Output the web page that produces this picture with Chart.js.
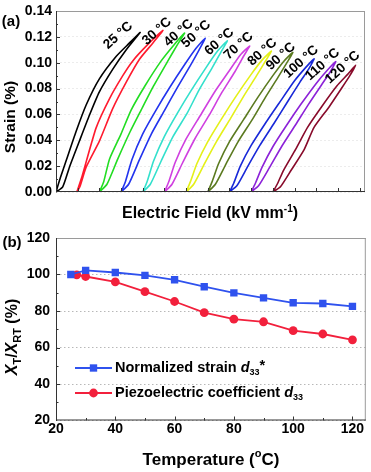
<!DOCTYPE html>
<html><head><meta charset="utf-8">
<script src="https://cdn.jsdelivr.net/npm/chart.js@4/dist/chart.umd.min.js"></script>
<style>
html,body{margin:0;padding:0;background:#fff;}
#wrap{position:relative;width:371px;height:472px;overflow:hidden;}
.box{position:absolute;left:0;width:371px;}
</style></head><body>
<div id="wrap">
<div class="box" style="top:0;height:225px"><canvas id="ca" width="371" height="225"></canvas></div>
<div class="box" style="top:225px;height:247px"><canvas id="cb" width="371" height="247"></canvas></div>
</div>
<script>
// ---------- Panel (a) data: strain loops (field in kV/mm on offset axis, strain in %) ----------
const temps = [25, 30, 40, 50, 60, 70, 80, 90, 100, 110, 120];
const field25 = [0, 0.2, 0.47, 0.93, 1.39, 2.0, 2.78, 3.39, 3.88, 3.24, 2.62, 2.0, 1.55, 1.08, 0.62, 0.31, 0];
const strain25 = [0, 0.011, 0.0243, 0.047, 0.0673, 0.0875, 0.105, 0.1153, 0.1234, 0.110, 0.095, 0.0774, 0.0597, 0.0394, 0.0192, 0.004, 0];
const field30 = [0.96, 1.2, 1.85, 2.47, 3.08, 3.54, 4.16, 4.93, 4.47, 3.85, 3.24, 2.62, 2.0, 1.39, 1.1, 0.96];
const strain30 = [0, 0.012, 0.0496, 0.0723, 0.090, 0.1014, 0.1128, 0.125, 0.1153, 0.1027, 0.085, 0.0647, 0.0394, 0.0192, 0.004, 0];
const field40 = [2, 2.2, 2.47, 3.0, 3.47, 4.1, 4.85, 5.4, 5.93, 5.6, 5.16, 4.5, 3.93, 3.4, 2.85, 2.35, 2];
const strain40 = [0, 0.008, 0.0256, 0.045, 0.0635, 0.082, 0.1014, 0.113, 0.123, 0.114, 0.1014, 0.082, 0.0635, 0.046, 0.0256, 0.006, 0];
const field50 = [3, 3.2, 3.5, 4.0, 4.6, 5.25, 5.95, 6.45, 6.88, 6.6, 6.2, 5.6, 5.0, 4.4, 3.85, 3.35, 3];
const strain50 = [0, 0.008, 0.025, 0.045, 0.063, 0.081, 0.099, 0.111, 0.119, 0.110, 0.098, 0.081, 0.063, 0.045, 0.025, 0.006, 0];
const field60 = [4, 4.2, 4.5, 5.0, 5.6, 6.25, 6.95, 7.45, 7.9, 7.6, 7.2, 6.6, 6.05, 5.4, 4.85, 4.35, 4];
const strain60 = [0, 0.008, 0.024, 0.043, 0.061, 0.079, 0.097, 0.109, 0.117, 0.108, 0.096, 0.079, 0.061, 0.043, 0.024, 0.006, 0];
const field70 = [5, 5.2, 5.5, 6.0, 6.65, 7.3, 8.0, 8.5, 8.93, 8.65, 8.25, 7.65, 7.05, 6.4, 5.85, 5.35, 5];
const strain70 = [0, 0.008, 0.023, 0.041, 0.059, 0.077, 0.094, 0.106, 0.113, 0.105, 0.093, 0.077, 0.059, 0.041, 0.023, 0.006, 0];
const field80 = [6, 6.2, 6.5, 7.0, 7.65, 8.3, 9.0, 9.5, 9.93, 9.65, 9.25, 8.65, 8.05, 7.4, 6.85, 6.35, 6];
const strain80 = [0, 0.008, 0.022, 0.039, 0.057, 0.074, 0.091, 0.102, 0.109, 0.101, 0.090, 0.074, 0.057, 0.039, 0.022, 0.006, 0];
const field90 = [7, 7.2, 7.5, 8.0, 8.65, 9.3, 10.0, 10.5, 10.92, 10.65, 10.25, 9.65, 9.05, 8.4, 7.85, 7.35, 7];
const strain90 = [0, 0.008, 0.022, 0.039, 0.056, 0.073, 0.090, 0.101, 0.108, 0.100, 0.089, 0.073, 0.056, 0.039, 0.022, 0.006, 0];
const field100 = [8, 8.2, 8.5, 9.0, 9.65, 10.3, 11.0, 11.5, 11.9, 11.65, 11.25, 10.65, 10.05, 9.4, 8.85, 8.35, 8];
const strain100 = [0, 0.007, 0.020, 0.036, 0.053, 0.069, 0.086, 0.096, 0.103, 0.095, 0.085, 0.069, 0.053, 0.036, 0.020, 0.005, 0];
const field110 = [9, 9.2, 9.5, 10.0, 10.65, 11.3, 12.0, 12.5, 12.9, 12.65, 12.25, 11.65, 11.05, 10.4, 9.85, 9.35, 9];
const strain110 = [0, 0.007, 0.019, 0.035, 0.052, 0.068, 0.084, 0.094, 0.101, 0.093, 0.083, 0.068, 0.052, 0.035, 0.019, 0.005, 0];
const field120 = [10, 10.2, 10.5, 11.05, 11.6, 12.25, 12.95, 13.45, 13.82, 13.55, 13.2, 12.6, 11.9, 11.45, 10.85, 10.35, 10];
const strain120 = [0, 0.006, 0.017, 0.033, 0.050, 0.066, 0.082, 0.091, 0.098, 0.090, 0.081, 0.066, 0.050, 0.033, 0.017, 0.004, 0];

// ---------- Panel (b) data ----------
const tempStrain = [25, 30, 40, 50, 60, 70, 80, 90, 100, 110, 120];
const normStrain = [100, 102.3, 101.1, 99.5, 97.1, 93.3, 89.9, 87.2, 84.5, 84.1, 82.5];
const tempD33 = [27, 30, 40, 50, 60, 70, 80, 90, 100, 110, 120];
const normD33 = [99.8, 98.9, 96.0, 90.6, 85.2, 79.1, 75.5, 74.1, 69.2, 67.4, 64.2];
const tempTicks = [20, 40, 60, 80, 100, 120];

// ---------- styles / layout ----------
const FONT = '"Liberation Sans", Arial, Helvetica, sans-serif';
const curveColors = ['#000000', '#ff1a2e', '#22dd22', '#2233ee', '#33e0cc', '#d040e0', '#e4f018', '#5b7a20', '#1828d8', '#8c22d8', '#880a2a'];
const labelDx = [-22, -6, -6, -9, -8, -11, -9, -12, -13, -13, -13];
const labelDy = [3, 1, 0, -4, 1, 0, 1, 4, 3, 3, 2];
const blue = '#2f52ee', red = '#f2203c';

const fields = [field25, field30, field40, field50, field60, field70, field80, field90, field100, field110, field120];
const strains = [strain25, strain30, strain40, strain50, strain60, strain70, strain80, strain90, strain100, strain110, strain120];

function fnt(p) { return (p.it ? 'italic ' : '') + 'bold ' + p.s + 'px ' + FONT; }
function rich(ctx, parts, x, y, align) {
  let w = 0;
  parts.forEach(p => { ctx.font = fnt(p); p.w = ctx.measureText(p.t).width; w += p.w; });
  let cx = align === 'center' ? x - w / 2 : (align === 'right' ? x - w : x);
  ctx.textAlign = 'left'; ctx.textBaseline = 'middle'; ctx.fillStyle = '#000';
  parts.forEach(p => { ctx.font = fnt(p); ctx.fillText(p.t, cx, y + (p.dy || 0)); cx += p.w; });
}
function ln(ctx, x1, y1, x2, y2) { ctx.beginPath(); ctx.moveTo(x1, y1); ctx.lineTo(x2, y2); ctx.stroke(); }
function frame(ctx, a) {
  ctx.lineWidth = 1;
  ctx.strokeStyle = '#9a9a9a';
  ln(ctx, a.left, a.top + 0.5, a.right, a.top + 0.5);
  ln(ctx, a.right - 0.5, a.top, a.right - 0.5, a.bottom);
  ctx.strokeStyle = '#333';
  ln(ctx, a.left + 0.5, a.top, a.left + 0.5, a.bottom + 0.5);
  ln(ctx, a.left, a.bottom - 0.5, a.right, a.bottom - 0.5);
}

Chart.defaults.font.family = FONT;
Chart.defaults.color = '#000';

// ---------- Chart (a) ----------
const plugA = {
  id: 'plugA',
  afterDraw(chart) {
    const { ctx, chartArea: a, scales: { x, y } } = chart;
    ctx.save();
    frame(ctx, a);
    ctx.strokeStyle = '#333'; ctx.lineWidth = 1;
    for (let v = 0; v <= 14; v++) {
      const px = Math.round(x.getPixelForValue(v)) + 0.5;
      ln(ctx, px, a.bottom, px, a.bottom - 4);
    }
    for (let k = 1; k < 14; k++) {
      const py = Math.round(y.getPixelForValue(k * 0.01)) + 0.5;
      ln(ctx, a.left, py, a.left + (k % 2 ? 2 : 4), py);
    }
    temps.forEach((t, i) => {
      const s = strains[i];
      let k = 0; s.forEach((v, j) => { if (v > s[k]) k = j; });
      const px = x.getPixelForValue(fields[i][k]) + labelDx[i];
      const py = y.getPixelForValue(s[k]) + labelDy[i];
      ctx.save();
      ctx.translate(px, py); ctx.rotate(-42 * Math.PI / 180);
      ctx.font = 'bold 13.5px ' + FONT; ctx.fillStyle = '#000';
      ctx.textAlign = 'center'; ctx.textBaseline = 'middle';
      ctx.fillText(t + ' \u00B0C', 0, 0);
      ctx.restore();
    });
    rich(ctx, [{ t: '(a)', s: 15 }], 11, 22, 'center');
    ctx.save(); ctx.translate(11, 117); ctx.rotate(-Math.PI / 2);
    rich(ctx, [{ t: 'Strain (%)', s: 15.5 }], 0, 0, 'center');
    ctx.restore();
    rich(ctx, [{ t: 'Electric Field (kV mm', s: 16 }, { t: '-1', s: 10, dy: -5 }, { t: ')', s: 16 }], 210, 214, 'center');
    ctx.restore();
  }
};

new Chart(document.getElementById('ca'), {
  type: 'scatter',
  data: {
    datasets: temps.map((t, i) => ({
      label: t + ' \u00B0C',
      data: fields[i].map((f, k) => ({ x: f, y: strains[i][k] })),
      showLine: true, borderColor: curveColors[i], backgroundColor: curveColors[i],
      borderWidth: 1.6, pointRadius: 0, pointHoverRadius: 0, tension: 0.2, fill: false
    }))
  },
  options: {
    responsive: false, animation: false, devicePixelRatio: 1,
    layout: { padding: { top: 7, right: 6, left: 0, bottom: 0 } },
    plugins: { legend: { display: false }, tooltip: { enabled: false } },
    scales: {
      x: {
        type: 'linear', min: 0, max: 14.25,
        ticks: { display: false, stepSize: 1 },
        grid: { display: false, drawTicks: false },
        border: { display: false },
        afterFit(s) { s.height = 33; }
      },
      y: {
        type: 'linear', min: 0, max: 0.14,
        ticks: { stepSize: 0.02, padding: 4, font: { size: 14, weight: 'bold', lineHeight: 1 }, callback: v => Number(v).toFixed(2) },
        grid: { color: '#ececec', drawTicks: false },
        border: { display: false, dash: [2, 2] },
        afterFit(s) { s.width = 56; }
      }
    }
  },
  plugins: [plugA]
});

// ---------- Chart (b) ----------
const plugB = {
  id: 'plugB',
  afterDraw(chart) {
    const { ctx, chartArea: a, scales: { x, y } } = chart;
    ctx.save();
    frame(ctx, a);
    ctx.strokeStyle = '#333'; ctx.lineWidth = 1;
    for (let v = 30; v <= 120; v += 10) {
      const px = Math.round(x.getPixelForValue(v)) + 0.5;
      ln(ctx, px, a.bottom, px, a.bottom - (v % 20 ? 2.5 : 4));
    }
    for (let v = 30; v < 120; v += 10) {
      const py = Math.round(y.getPixelForValue(v)) + 0.5;
      ln(ctx, a.left, py, a.left + (v % 20 ? 2.5 : 4), py);
    }
    const items = [
      { c: blue, st: 'rect', r: 5.2, y: 143, parts: [{ t: 'Normalized strain ', s: 14.5 }, { t: 'd', s: 14.5, it: true }, { t: '33', s: 9, dy: 5 }, { t: '*', s: 14.5, dy: -2 }] },
      { c: red, st: 'circle', r: 4.4, y: 168, parts: [{ t: 'Piezoelectric coefficient ', s: 14.5 }, { t: 'd', s: 14.5, it: true }, { t: '33', s: 9, dy: 5 }] }
    ];
    items.forEach(it => {
      ctx.strokeStyle = it.c; ctx.lineWidth = 1.8;
      ln(ctx, 75, it.y, 112, it.y);
      ctx.fillStyle = it.c;
      Chart.helpers.drawPoint(ctx, { pointStyle: it.st, radius: it.r, borderWidth: 0 }, 93.5, it.y);
      rich(ctx, it.parts, 115, it.y, 'left');
    });
    rich(ctx, [{ t: '(b)', s: 15 }], 12, 18, 'center');
    ctx.save(); ctx.translate(13, 112); ctx.rotate(-Math.PI / 2);
    rich(ctx, [{ t: 'X', s: 16, it: true }, { t: 'T', s: 11, dy: 5 }, { t: '/', s: 16 }, { t: 'X', s: 16, it: true }, { t: 'RT', s: 11, dy: 5 }, { t: ' (%)', s: 16 }], 0, 0, 'center');
    ctx.restore();
    rich(ctx, [{ t: 'Temperature (', s: 17 }, { t: 'o', s: 11, dy: -6 }, { t: 'C)', s: 17 }], 211, 235, 'center');
    ctx.restore();
  }
};

new Chart(document.getElementById('cb'), {
  type: 'scatter',
  data: {
    datasets: [
      {
        label: 'Normalized strain d33*',
        data: tempStrain.map((t, i) => ({ x: t, y: normStrain[i] })),
        showLine: true, borderColor: blue, backgroundColor: blue, borderWidth: 1.8,
        pointStyle: 'rect', pointRadius: 5.2, pointBorderWidth: 0, tension: 0
      },
      {
        label: 'Piezoelectric coefficient d33',
        data: tempD33.map((t, i) => ({ x: t, y: normD33[i] })),
        showLine: true, borderColor: red, backgroundColor: red, borderWidth: 1.8,
        pointStyle: 'circle', pointRadius: 4.4, pointBorderWidth: 0, tension: 0
      }
    ]
  },
  options: {
    responsive: false, animation: false, devicePixelRatio: 1,
    layout: { padding: { top: 8, right: 4, left: 0, bottom: 0 } },
    plugins: { legend: { display: false }, tooltip: { enabled: false } },
    scales: {
      x: {
        type: 'linear', min: 20, max: 124.5,
        afterBuildTicks(s) { s.ticks = tempTicks.map(v => ({ value: v })); },
        ticks: { stepSize: 20, padding: 2, font: { size: 14, weight: 'bold', lineHeight: 1 } },
        grid: { display: false, drawTicks: false },
        border: { display: false },
        afterFit(s) { s.height = 51.5; }
      },
      y: {
        type: 'linear', min: 20, max: 120,
        ticks: { stepSize: 20, padding: 6, font: { size: 14, weight: 'bold', lineHeight: 1 } },
        grid: { color: '#b8b8b8', drawTicks: false },
        border: { display: false, dash: [1.5, 2.5] },
        afterFit(s) { s.width = 56; }
      }
    }
  },
  plugins: [plugB]
});
</script>
</body></html>
